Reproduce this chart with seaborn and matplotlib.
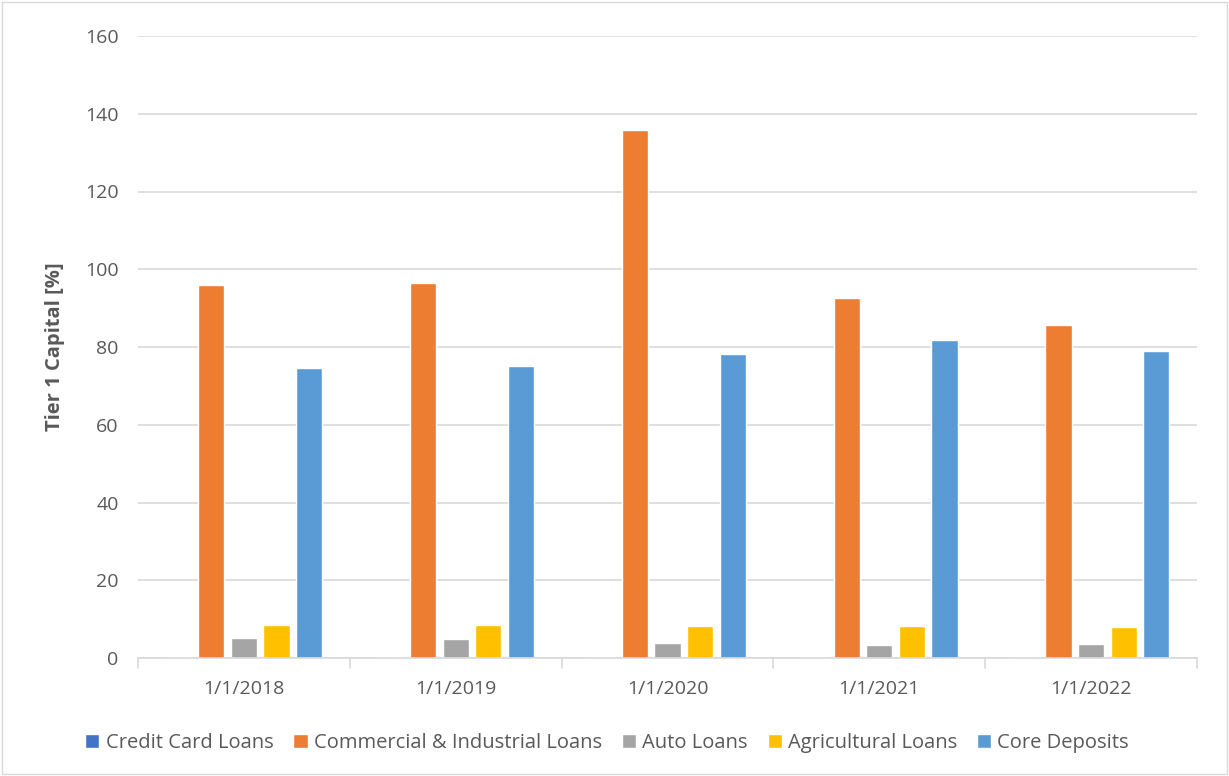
import matplotlib
matplotlib.use("Agg")
import matplotlib.pyplot as plt
from matplotlib.patches import Rectangle
import seaborn as sns
import pandas as pd
import numpy as np

dates = ["1/1/2018", "1/1/2019", "1/1/2020", "1/1/2021", "1/1/2022"]
series = ["Credit Card Loans", "Commercial & Industrial Loans", "Auto Loans",
          "Agricultural Loans", "Core Deposits"]
credit_card = [0.3, 0.2, 0.2, 0.2, 0.2]
commercial_industrial = [95.9, 96.5, 135.8, 92.6, 85.7]
auto = [5.1, 4.9, 3.9, 3.4, 3.6]
agricultural = [8.5, 8.6, 8.3, 8.3, 8.1]
core_deposits = [74.6, 75.1, 78.2, 81.8, 79.0]
colors = ["#4472C4", "#ED7D31", "#A5A5A5", "#FFC000", "#5B9BD5"]

values = [credit_card, commercial_industrial, auto, agricultural, core_deposits]
df = pd.DataFrame({
    "date": np.tile(dates, len(series)),
    "series": np.repeat(series, len(dates)),
    "value": np.concatenate(values),
})

sns.set_theme(style="white")
plt.rcParams["font.family"] = ["Open Sans", "DejaVu Sans"]
text_color = "#595959"

fig = plt.figure(figsize=(12.29, 7.76), dpi=100)
ax = fig.add_axes([138 / 1229, 1 - 658 / 776, (1197 - 138) / 1229, (658 - 36) / 776])

sns.barplot(data=df, x="date", y="value", hue="series", order=dates,
            hue_order=series, palette=colors, width=0.77, gap=0.2,
            saturation=1, ax=ax, legend=True)

ax.set_ylim(0, 160)
ax.set_yticks(np.arange(0, 161, 20))
ax.set_xlim(-0.5, len(dates) - 0.5)
ax.yaxis.grid(True, color="#D9D9D9", linewidth=1.2)
ax.set_axisbelow(True)
for side in ["top", "right", "left"]:
    ax.spines[side].set_visible(False)
ax.spines["bottom"].set_color("#D9D9D9")
ax.spines["bottom"].set_linewidth(1.2)

ax.set_xlabel("")
ax.set_ylabel("Tier 1 Capital [%]", fontsize=14.5, fontweight="bold",
              color=text_color, labelpad=14)
ax.tick_params(axis="y", length=0, labelsize=14, labelcolor=text_color, pad=14)
ax.tick_params(axis="x", length=0, labelsize=14, labelcolor=text_color, pad=16)

# category separators below the axis
for b in np.arange(-0.5, len(dates), 1.0):
    ax.plot([b, b], [0, -2.6], color="#D9D9D9", linewidth=1.2, clip_on=False)

handles, labels = ax.get_legend_handles_labels()
ax.legend(handles, labels, loc="center", bbox_to_anchor=(0.443, -0.137),
          ncol=5, frameon=False, fontsize=14.5, labelcolor=text_color,
          handlelength=0.7, handleheight=0.7, handletextpad=0.3,
          columnspacing=1.0)

fig.patches.append(Rectangle((0.002, 0.002), 0.996, 0.995, transform=fig.transFigure,
                             fill=False, edgecolor="#D9D9D9", linewidth=1))

fig.savefig("out.png", dpi=100, facecolor="white")
